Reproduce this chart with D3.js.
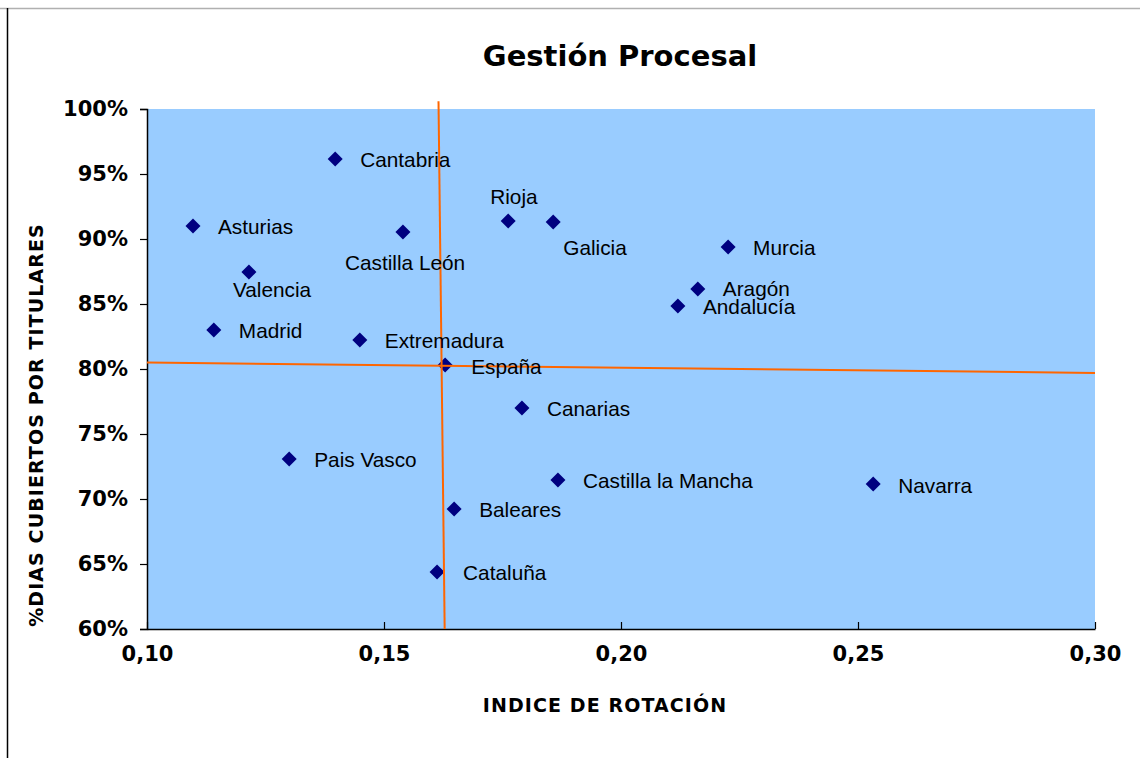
<!DOCTYPE html>
<html><head><meta charset="utf-8">
<script src="https://cdn.jsdelivr.net/npm/d3@7"></script>
<style>body{margin:0;background:#fff}</style>
</head><body>
<svg id="c" width="1140" height="758"></svg>
<script>
const regions = ["Cantabria","Asturias","Castilla León","Rioja","Galicia","Murcia","Valencia","Aragón","Andalucía","Madrid","Extremadura","España","Canarias","Pais Vasco","Castilla la Mancha","Navarra","Baleares","Cataluña"];
const rotation = [0.1397,0.1097,0.1540,0.1762,0.1857,0.2226,0.1215,0.2162,0.2120,0.1141,0.1449,0.1629,0.1791,0.1300,0.1867,0.2532,0.1648,0.1612];
const coverage = [0.9615,0.9100,0.9054,0.9138,0.9130,0.8938,0.8746,0.8615,0.8485,0.8300,0.8223,0.8030,0.7700,0.7308,0.7146,0.7115,0.6923,0.6438];
const xTicks = [0.10,0.15,0.20,0.25,0.30];
const yTicks = [0.60,0.65,0.70,0.75,0.80,0.85,0.90,0.95,1.00];
// reference lines (data coordinates): [x1,y1,x2,y2]
const vLine = [0.1615,1.006,0.1628,0.60];
const hLine = [0.10,0.805,0.30,0.797];
// label placement offsets (px)
const labelOffset = {
  "Castilla León":[-58,31],"Rioja":[-18,-24],"Galicia":[10,26],"Valencia":[-16,18],
  "Aragón":[25,0],"España":[26,2],"Navarra":[25,2],"Cataluña":[26,1]
};

const svg = d3.select("#c");
const m = {l:147, r:1095, t:109, b:629};
const x = d3.scaleLinear().domain([0.10,0.30]).range([m.l,m.r]);
const y = d3.scaleLinear().domain([0.60,1.00]).range([m.b,m.t]);

// frame
svg.append("line").attr("x1",0).attr("x2",1140).attr("y1",8.5).attr("y2",8.5).attr("stroke","#b0b0b0").attr("stroke-width",1.5);
svg.append("line").attr("x1",7.5).attr("x2",7.5).attr("y1",8).attr("y2",758).attr("stroke","#000").attr("stroke-width",1.5);

svg.append("rect").attr("x",m.l).attr("y",m.t).attr("width",m.r-m.l).attr("height",m.b-m.t).attr("fill","#99CCFF");

svg.append("text").attr("x",620).attr("y",66).attr("text-anchor","middle")
  .attr("font-family","DejaVu Sans").attr("font-weight","bold").attr("font-size",29).text("Gestión Procesal");

const fmtX = d => d3.format(".2f")(d).replace(".",",");
const yAxis = d3.axisLeft(y).tickValues(yTicks).tickSize(7).tickPadding(12).tickFormat(d=>Math.round(d*100)+"%");
const gy = svg.append("g").attr("transform",`translate(${m.l},0)`).call(yAxis);
const xAxis = d3.axisBottom(x).tickValues(xTicks).tickSizeInner(-7).tickSizeOuter(0).tickPadding(17).tickFormat(fmtX);
const gx = svg.append("g").attr("transform",`translate(0,${m.b})`).call(xAxis);
[gx,gy].forEach(g=>{
  g.select(".domain").attr("stroke","#000").attr("stroke-width",1.5);
  g.selectAll(".tick line").attr("stroke","#000").attr("stroke-width",1.2);
  g.selectAll("text").attr("font-family","DejaVu Sans").attr("font-weight","bold").attr("font-size",21).attr("fill","#000");
});
gx.selectAll("text").attr("dy","0.71em");

svg.append("text").attr("x",605).attr("y",712).attr("text-anchor","middle")
  .attr("font-family","DejaVu Sans").attr("font-weight","bold").attr("font-size",19).attr("letter-spacing",1.1).text("INDICE DE ROTACIÓN");
svg.append("text").attr("transform","translate(43,425) rotate(-90)").attr("text-anchor","middle")
  .attr("font-family","DejaVu Sans").attr("font-weight","bold").attr("font-size",19).attr("letter-spacing",1.1).text("%DIAS CUBIERTOS POR TITULARES");

const pts = regions.map((r,i)=>({name:r,x:rotation[i],y:coverage[i]}));

svg.append("g").selectAll("path").data(pts).join("path")
  .attr("transform",d=>`translate(${x(d.x)},${y(d.y)})`)
  .attr("d","M0,-7.5L7.5,0L0,7.5L-7.5,0Z").attr("fill","#000080");

svg.append("line").attr("x1",x(vLine[0])).attr("y1",y(vLine[1])).attr("x2",x(vLine[2])).attr("y2",y(vLine[3]))
  .attr("stroke","#FF6600").attr("stroke-width",2);
svg.append("line").attr("x1",x(hLine[0])).attr("y1",y(hLine[1])).attr("x2",x(hLine[2])).attr("y2",y(hLine[3]))
  .attr("stroke","#FF6600").attr("stroke-width",2);

svg.append("g").selectAll("text").data(pts).join("text")
  .attr("x",d=>x(d.x)+(labelOffset[d.name]?labelOffset[d.name][0]:25))
  .attr("y",d=>y(d.y)+(labelOffset[d.name]?labelOffset[d.name][1]:1))
  .attr("dy","0.35em")
  .attr("font-family","Liberation Sans, Arial").attr("font-size",20.8).attr("fill","#000").text(d=>d.name);
</script>
</body></html>
